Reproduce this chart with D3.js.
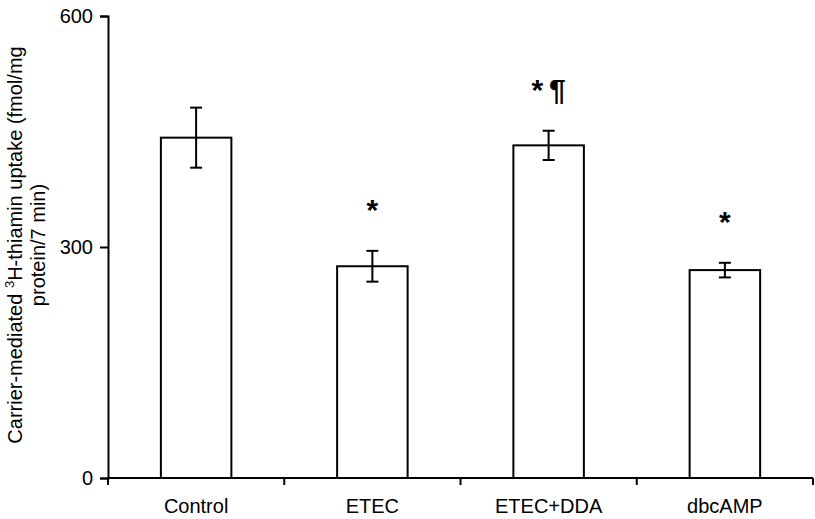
<!DOCTYPE html>
<html lang="en">
<head>
<meta charset="UTF-8" />
<title>Thiamin uptake</title>
<script src="https://cdn.jsdelivr.net/npm/d3@7"></script>
<style>
  body { margin: 0; background: #fff; font-family: "Liberation Sans", Arial, sans-serif; }
  text { fill: #000; }
</style>
</head>
<body>
<svg width="815" height="519"></svg>
<script>
// values
const groups = ["Control", "ETEC", "ETEC+DDA", "dbcAMP"];
const means = [442, 275, 432, 270];
const errors = [39, 20, 19, 9.5];
const marks = ["", "*", "*\u2009\u00b6", "*"];
const yTicks = [0, 300, 600];

const svg = d3.select("svg");
const plotLeft = 108, plotRight = 813, plotTop = 16, plotBottom = 478;

const x = d3.scaleBand().domain(groups).range([plotLeft, plotRight])
  .paddingInner(0.6).paddingOuter(0.3);
const y = d3.scaleLinear().domain([0, 600]).range([plotBottom, plotTop]);

// y axis
const yAxis = svg.append("g")
  .attr("transform", `translate(${plotLeft},0)`)
  .call(d3.axisLeft(y).tickValues(yTicks).tickSize(8).tickPadding(7));
yAxis.select(".domain").attr("stroke-width", 2);
yAxis.selectAll(".tick line").attr("stroke-width", 2);
yAxis.selectAll(".tick text")
  .attr("font-size", 20)
  .attr("font-family", "Liberation Sans, Arial, sans-serif")
  .attr("fill", "#000");

// x axis line and ticks at band edges
const edges = d3.range(groups.length + 1).map(i => plotLeft + i * (plotRight - plotLeft) / groups.length);
svg.append("line")
  .attr("x1", plotLeft).attr("x2", plotRight).attr("y1", plotBottom).attr("y2", plotBottom)
  .attr("stroke", "#000").attr("stroke-width", 2);
svg.selectAll(".xtick").data(edges).enter().append("line")
  .attr("x1", d => d).attr("x2", d => d)
  .attr("y1", plotBottom).attr("y2", plotBottom + 7)
  .attr("stroke", "#000").attr("stroke-width", 2);
svg.selectAll(".xlab").data(groups).enter().append("text")
  .attr("x", d => x(d) + x.bandwidth() / 2)
  .attr("y", 513)
  .attr("text-anchor", "middle")
  .attr("font-size", 20)
  .text(d => d);

// bars
const data = groups.map((g, i) => ({ g, m: means[i], e: errors[i], mark: marks[i] }));
svg.selectAll(".bar").data(data).enter().append("rect")
  .attr("x", d => x(d.g))
  .attr("y", d => y(d.m))
  .attr("width", x.bandwidth())
  .attr("height", d => y(0) - y(d.m))
  .attr("fill", "#fff").attr("stroke", "#000").attr("stroke-width", 2);

// error bars
const eb = svg.selectAll(".err").data(data).enter().append("g")
  .attr("transform", d => `translate(${x(d.g) + x.bandwidth() / 2},0)`)
  .attr("stroke", "#000").attr("stroke-width", 2);
eb.append("line").attr("y1", d => y(d.m - d.e)).attr("y2", d => y(d.m + d.e));
eb.append("line").attr("x1", -6).attr("x2", 6).attr("y1", d => y(d.m + d.e)).attr("y2", d => y(d.m + d.e));
eb.append("line").attr("x1", -6).attr("x2", 6).attr("y1", d => y(d.m - d.e)).attr("y2", d => y(d.m - d.e));

// significance marks
svg.selectAll(".mark").data(data.filter(d => d.mark)).enter().append("text")
  .attr("x", d => x(d.g) + x.bandwidth() / 2)
  .attr("y", d => y(d.m + d.e) - 31)
  .attr("text-anchor", "middle")
  .attr("font-size", 30)
  .attr("font-weight", "bold")
  .text(d => d.mark);

// y label
const yl = svg.append("text")
  .attr("transform", "translate(0,245) rotate(-90)")
  .attr("text-anchor", "middle")
  .attr("font-size", 20);
const l1 = yl.append("tspan").attr("x", 0).attr("y", 22);
l1.append("tspan").text("Carrier-mediated ");
l1.append("tspan").attr("font-size", 13).attr("dy", -8).text("3");
l1.append("tspan").attr("dy", 8).text("H-thiamin uptake (fmol/mg");
yl.append("tspan").attr("x", 0).attr("y", 45).text("protein/7 min)");
</script>
</body>
</html>
